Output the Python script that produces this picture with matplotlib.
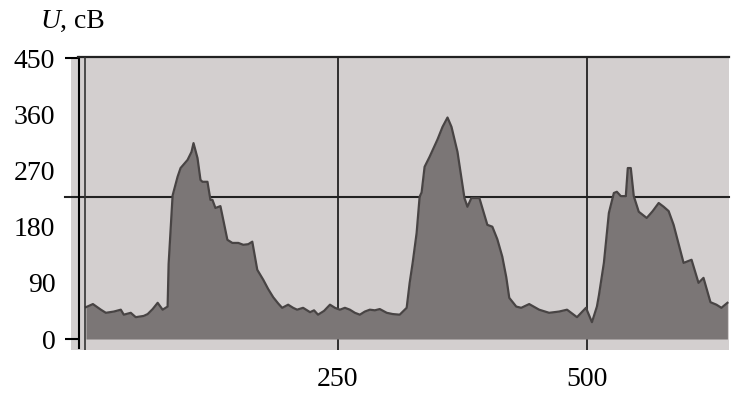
import matplotlib.pyplot as plt
import numpy as np

# signal trace
x = [-3, 4, 12, 17, 25, 32, 35, 42, 47, 55, 59, 64, 69, 74, 79,
     80, 84, 89, 92, 99, 103, 105, 109, 112, 114, 119, 122, 124, 127, 132,
     135, 139, 144, 150, 155, 160, 164, 169, 175, 180, 185, 190, 194, 200,
     205, 209, 215, 222, 226, 230, 236, 242, 247, 252, 257, 262, 267, 272,
     277, 282, 287, 292, 299, 305, 312, 319, 322, 325, 329, 332, 334, 337,
     342, 350, 355, 360, 364, 370, 377, 380, 384, 392, 400, 405, 410, 415,
     419, 422, 429, 434, 442, 452, 462, 472, 480, 490, 499, 505, 510, 512,
     517, 522, 527, 530, 534, 539, 541, 544, 547, 552, 560, 566, 572, 577,
     582, 587, 597, 605, 612, 617, 624, 630, 635, 641]
u = [51, 56, 47, 42, 44, 47, 39, 42, 35, 37, 40, 48, 58, 47, 52,
     120, 230, 260, 274, 287, 300, 314, 290, 255, 252, 252, 223, 223, 210, 213,
     190, 159, 154, 154, 151, 152, 156, 111, 95, 80, 67, 57, 50, 55,
     50, 47, 50, 43, 46, 39, 45, 55, 50, 47, 50, 47, 42, 39,
     44, 47, 46, 48, 42, 40, 39, 50, 90, 122, 170, 228, 235, 276,
     292, 320, 340, 355, 340, 300, 226, 212, 226, 226, 183, 180, 160, 132,
     99, 66, 52, 50, 56, 47, 42, 44, 47, 35, 50, 27, 52, 70,
     122, 202, 234, 236, 229, 229, 274, 274, 229, 204, 194, 205, 218, 212,
     205, 183, 122, 127, 90, 98, 59, 55, 50, 58]

y_ticks = [0, 90, 180, 270, 360, 450]
x_ticks = [250, 500]
grid_u = 228

plt.rcParams['font.family'] = ['Liberation Serif', 'DejaVu Serif']

fig = plt.figure(figsize=(7.31, 3.94), dpi=100)
ax = fig.add_axes([71/731, 1-350/394, 658/731, 293/394])
ax.set_facecolor('#d3cfcf')
ax.set_xlim(-18, 642.6)
ax.set_ylim(-17.6, 452)

# grid behind the fill
for xv in x_ticks:
    ax.axvline(xv, color='#222222', lw=1.3, zorder=1)
ax.plot([-24, 642.6], [grid_u, grid_u], color='#222222', lw=1.5,
        clip_on=False, zorder=1)

ax.fill_between(x, u, 0, color='#7b7676', lw=0, zorder=2)
ax.plot(x, u, color='#484444', lw=1.6, zorder=3)
ax.axvline(-4, color='#333333', lw=1.2, zorder=4)

ax.spines['right'].set_visible(False)
ax.spines['bottom'].set_visible(False)
ax.spines['top'].set_bounds(-11, 642.6)
ax.spines['top'].set_linewidth(1.6)
ax.spines['top'].set_color('#222222')
ax.spines['left'].set_position(('data', -10))
ax.spines['left'].set_bounds(-14, 452)
ax.spines['left'].set_linewidth(1.5)

ax.set_yticks(y_ticks)
ax.set_yticklabels([str(v) for v in y_ticks])
for t, v in zip(ax.yaxis.get_major_ticks(), y_ticks):
    if v not in (0, 450):
        t.tick1line.set_visible(False)
ax.tick_params(axis='y', length=10, width=1.5, pad=7, labelsize=20)

ax.set_xticks(x_ticks)
ax.set_xticklabels([str(v) for v in x_ticks])
ax.tick_params(axis='x', length=0, pad=12, labelsize=20)

fig.text(40/731, 1-28/394, 'U', style='italic', fontsize=20, va='baseline')
fig.text(60/731, 1-28/394, ', сВ', fontsize=20, va='baseline')

plt.savefig("out.png", dpi=100)
